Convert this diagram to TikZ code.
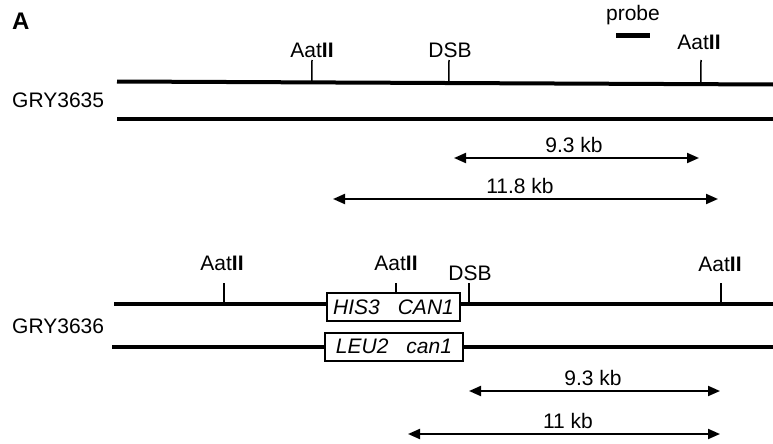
\documentclass[tikz,border=0pt]{standalone}
\usepackage{fontspec}
\setmainfont{Liberation Sans}
\usetikzlibrary{arrows.meta,calc}
\newcommand{\aat}{Aat\textbf{II}}
\begin{document}
\begin{tikzpicture}[x=1pt,y=-1pt,
  lbl/.style={font=\fontsize{21}{25}\selectfont, inner sep=0pt, anchor=base},
  chrom/.style={line width=4pt},
  sitemark/.style={line width=1.5pt},
  span/.style={line width=2pt,
    {Triangle[length=12pt,width=10pt]}-{Triangle[length=12pt,width=10pt]}},
  genebox/.style={draw, line width=2pt, fill=white, inner sep=0pt,
    minimum height=28pt, font=\fontsize{21}{25}\selectfont\itshape},
]
\useasboundingbox (0,0) rectangle (773,444);

% panel letter
\node[lbl, anchor=base west, font=\fontsize{24}{28}\selectfont\bfseries] (panel) at (12,30) {A};

% ---------- GRY3635 ----------
\coordinate (t1a) at (117,81.5);
\coordinate (t1b) at (773,84.5);
\coordinate (t2a) at (117,119);
\coordinate (t2b) at (773,119);
\draw[chrom] (t1a) -- (t1b);
\draw[chrom] (t2a) -- (t2b);
\node[lbl] (s1) at (12,107) [anchor=base west] {GRY3635};

\coordinate (k1) at (312,60);
\coordinate (k2) at (449,60);
\coordinate (k3) at (701,60);
\draw[sitemark] (k1) -- ($(t1a)!(k1)!(t1b)$);
\draw[sitemark] (k2) -- ($(t1a)!(k2)!(t1b)$);
\draw[sitemark] (k3) -- ($(t1a)!(k3)!(t1b)$);
\node[lbl] (a1) at (312,58) {\aat};
\node[lbl] (d1) at (450,58) {DSB};
\node[lbl] (a2) at (699,50) {\aat};

\coordinate (p1) at (616,36);
\coordinate (p2) at (650,36);
\draw[line width=5pt] (p1) -- (p2);
\node[lbl] (probe) at (633,21) {probe};

\coordinate (r1a) at (454,158);
\coordinate (r1b) at (699,158);
\draw[span] (r1a) -- (r1b);
\node[lbl] (l1) at (574,152) {9.3 kb};
\coordinate (r2a) at (333,199);
\coordinate (r2b) at (718,199);
\draw[span] (r2a) -- (r2b);
\node[lbl] (l2) at (520,193) {11.8 kb};

% ---------- GRY3636 ----------
\node[genebox, minimum width=133pt] (bx1) at (393.5,307) {HIS3\hspace{18pt}CAN1};
\node[genebox, minimum width=138pt] (bx2) at (394,346.5) {LEU2\hspace{18pt}can1};
\coordinate (b1a) at (114,303.5);
\coordinate (b1b) at (773,303.5);
\coordinate (b2a) at (112,346.5);
\coordinate (b2b) at (773,346.5);
\draw[chrom] (b1a) -- (b1a -| bx1.west);
\draw[chrom] (b1a -| bx1.east) -- (b1b);
\draw[chrom] (b2a) -- (b2a -| bx2.west);
\draw[chrom] (b2a -| bx2.east) -- (b2b);
\node[lbl] (s2) at (12,333) [anchor=base west] {GRY3636};

\coordinate (m1) at (224,283);
\coordinate (m2) at (396,283);
\coordinate (m3) at (469,283);
\coordinate (m4) at (721,283);
\draw[sitemark] (m1) -- (m1 |- b1a);
\draw[sitemark] (m2) -- (m2 |- bx1.north);
\draw[sitemark] (m3) -- (m3 |- b1a);
\draw[sitemark] (m4) -- (m4 |- b1a);
\node[lbl] (a3) at (222,270) {\aat};
\node[lbl] (a4) at (396,270) {\aat};
\node[lbl] (d2) at (470,280) {DSB};
\node[lbl] (a5) at (720,271) {\aat};

\coordinate (r3a) at (469,391);
\coordinate (r3b) at (720,391);
\draw[span] (r3a) -- (r3b);
\node[lbl] (l3) at (593,385) {9.3 kb};
\coordinate (r4a) at (408,434);
\coordinate (r4b) at (720,434);
\draw[span] (r4a) -- (r4b);
\node[lbl] (l4) at (568,428) {11 kb};
\end{tikzpicture}
\end{document}
